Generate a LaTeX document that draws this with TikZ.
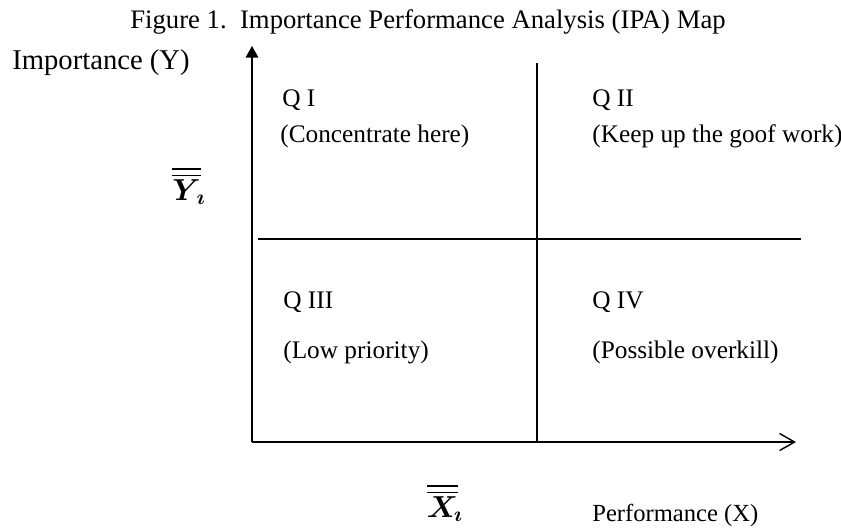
\documentclass[tikz,border=0pt]{standalone}
\usepackage{amsmath}
\usepackage{fontspec}
\setmainfont{Liberation Serif}
\usepackage{tikz}
\usetikzlibrary{arrows.meta,positioning}

\begin{document}
\begin{tikzpicture}[
    x=0.2mm, y=-0.2mm,
    label/.style={anchor=west, inner sep=0pt, font=\fontsize{14.4}{16}\selectfont},
    title/.style={inner sep=0pt, font=\fontsize{15.2}{17}\selectfont},
    mean/.style={inner sep=0pt, font=\fontsize{18}{20}\selectfont},
    axis/.style={line width=0.8pt},
    divider/.style={line width=0.7pt}
]
    \useasboundingbox (0,0) rectangle (841,527);

    % Title
    \node[title] (fig) at (428,22) {Figure 1.\ \ Importance Performance Analysis (IPA) Map};

    % Axes
    \coordinate (origin) at (252,442);
    \coordinate (ytop) at (252,46);
    \coordinate (xend) at (796,442);
    \draw[axis, -{Triangle[length=2.3mm,width=2.5mm]}] (origin) -- (ytop);
    \draw[axis, -{Straight Barb[length=3mm,width=3.4mm]}] (origin) -- (xend);
    \node[label, font=\fontsize{16.3}{18}\selectfont] (ylab) at (12,63) {Importance (Y)};
    \node[label, font=\fontsize{14}{16}\selectfont] (xlab) at (592,515) {Performance (X)};
    \node[mean] (ybar) at (189,186) {$\boldsymbol{\overline{\overline{Y}}_{\!\imath}}$};
    \node[mean] (xbar) at (445,503) {$\boldsymbol{\overline{\overline{X}}_{\!\imath}}$};

    % Quadrant lines
    \coordinate (vtop) at (537,63);
    \coordinate (vbot) at (537,442);
    \coordinate (hleft) at (258,239);
    \coordinate (hright) at (801,239);
    \draw[divider] (vtop) -- (vbot);
    \draw[divider] (hleft) -- (hright);

    % Quadrants
    \node[label] (q1) at (282,100) {Q I};
    \node[label] (q1txt) at (280,136) {(Concentrate here)};
    \node[label] (q2) at (592,100) {Q II};
    \node[label] (q2txt) at (592,136) {(Keep up the goof work)};
    \node[label] (q3) at (283,302) {Q III};
    \node[label] (q3txt) at (283,352) {(Low priority)};
    \node[label] (q4) at (592,302) {Q IV};
    \node[label] (q4txt) at (592,352) {(Possible overkill)};
\end{tikzpicture}
\end{document}
